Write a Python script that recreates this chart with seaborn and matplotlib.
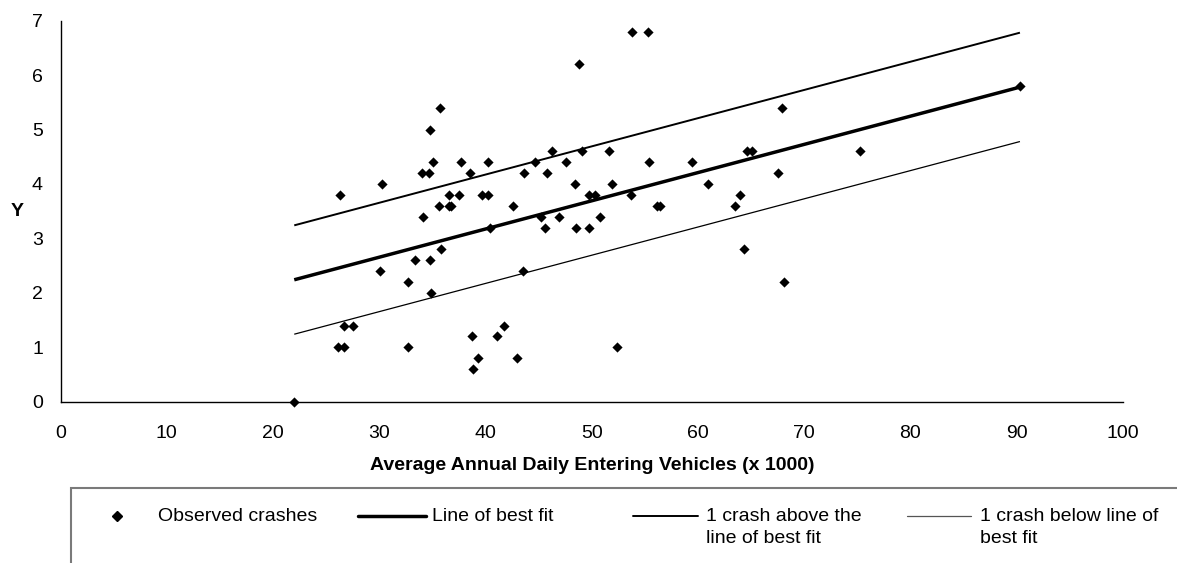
import matplotlib
matplotlib.use("Agg")
import matplotlib.pyplot as plt
import seaborn as sns
from matplotlib.lines import Line2D
from matplotlib.patches import Rectangle

# Observed crashes (AADT in thousands, crashes per year)
aadt = [22.0, 26.1, 26.7, 26.7, 27.5, 26.3, 30.3, 30.1, 32.7, 32.7,
        33.4, 34.0, 34.7, 34.8, 35.1, 35.7, 34.1, 34.8, 34.9, 35.8,
        35.65, 36.6, 36.6, 36.75, 37.5, 37.7, 38.5, 39.65, 40.2, 40.2,
        40.4, 38.7, 38.8, 39.3, 41.05, 41.7, 43.0, 42.6, 43.5, 43.65,
        44.7, 45.2, 45.6, 45.8, 46.3, 46.9, 47.6, 48.4, 48.5, 48.8,
        49.1, 49.7, 49.7, 50.3, 50.8, 51.6, 51.9, 52.4, 53.7, 53.8,
        55.3, 55.4, 56.1, 56.4, 59.4, 60.95, 63.5, 63.95, 64.3, 64.6,
        65.05, 67.5, 67.9, 68.1, 75.2, 90.3]
crashes = [0.0, 1.0, 1.0, 1.4, 1.4, 3.8, 4.0, 2.4, 2.2, 1.0,
           2.6, 4.2, 4.2, 5.0, 4.4, 5.4, 3.4, 2.6, 2.0, 2.8,
           3.6, 3.8, 3.6, 3.6, 3.8, 4.4, 4.2, 3.8, 3.8, 4.4,
           3.2, 1.2, 0.6, 0.8, 1.2, 1.4, 0.8, 3.6, 2.4, 4.2,
           4.4, 3.4, 3.2, 4.2, 4.6, 3.4, 4.4, 4.0, 3.2, 6.2,
           4.6, 3.2, 3.8, 3.8, 3.4, 4.6, 4.0, 1.0, 3.8, 6.8,
           6.8, 4.4, 3.6, 3.6, 4.4, 4.0, 3.6, 3.8, 2.8, 4.6,
           4.6, 4.2, 5.4, 2.2, 4.6, 5.8]

# line of best fit end points and the +/- 1 crash bands
fit_x = [22.0, 90.3]
fit_y = [2.24, 5.78]
upper_y = [3.24, 6.78]
lower_y = [1.24, 4.78]

legend_labels = ["Observed crashes", "Line of best fit",
                 "1 crash above the\nline of best fit",
                 "1 crash below line of\nbest fit"]

sns.set_theme(style="white")
plt.rcParams["font.family"] = ["Liberation Sans", "DejaVu Sans"]

W, H = 1177, 563
fig = plt.figure(figsize=(W / 100, H / 100), dpi=100)
ax = fig.add_axes([60.5 / W, 1 - 401.7 / H, (1123 - 60.5) / W, (401.7 - 20.7) / H])

ax.plot(fit_x, fit_y, color="black", lw=2.5, solid_capstyle="butt")
ax.plot(fit_x, upper_y, color="black", lw=1.4, solid_capstyle="butt")
ax.plot(fit_x, lower_y, color="black", lw=0.9, solid_capstyle="butt")
sns.scatterplot(x=aadt, y=crashes, marker="D", s=27, color="black",
                linewidth=0, ax=ax, zorder=3, clip_on=False)

ax.set_xlim(0, 100)
ax.set_ylim(0, 7)
ax.set_xticks(range(0, 101, 10))
ax.set_yticks(range(0, 8))
sns.despine(ax=ax)
for side in ["left", "bottom"]:
    ax.spines[side].set_color("black")
    ax.spines[side].set_linewidth(1.0)
ax.tick_params(direction="inout", length=7.2, width=0.8, color="black",
               labelsize=14, labelcolor="black")
ax.tick_params(axis="x", pad=13)
ax.tick_params(axis="y", pad=9)

ax.set_xlabel("Average Annual Daily Entering Vehicles (x 1000)",
              fontsize=14, fontweight="bold", color="black", labelpad=11)
ax.set_ylabel("Y", fontsize=14, fontweight="bold", color="black",
              rotation=0, ha="center", va="center")
ax.yaxis.set_label_coords((17 - 60.5) / (1123 - 60.5), 0.5)

# legend box, cut off by the right and bottom edges like the source
def fx(px):
    return px / W

def fy(py):
    return 1 - py / H

fig.add_artist(Rectangle((fx(71), fy(700)), 1.2, fy(488.3) - fy(700),
                         transform=fig.transFigure, fill=False,
                         edgecolor="#7a7a7a", lw=1.5))

row_y = 516
fig.add_artist(Line2D([fx(116.5)], [fy(row_y)], marker="D", ms=4.6,
                      color="black", ls="none", transform=fig.transFigure))
fig.add_artist(Line2D([fx(358), fx(426)], [fy(row_y)] * 2, color="black",
                      lw=2.5, transform=fig.transFigure))
fig.add_artist(Line2D([fx(633), fx(698)], [fy(row_y)] * 2, color="black",
                      lw=1.4, transform=fig.transFigure))
fig.add_artist(Line2D([fx(907), fx(971)], [fy(row_y)] * 2, color="#555555",
                      lw=0.9, transform=fig.transFigure))

text_x = [157.7, 431.7, 705.7, 979.7]
for tx, lab in zip(text_x, legend_labels):
    fig.text(fx(tx), fy(508), lab, fontsize=14, color="black",
             ha="left", va="top", linespacing=1.42)

fig.savefig("out.png", dpi=100)
